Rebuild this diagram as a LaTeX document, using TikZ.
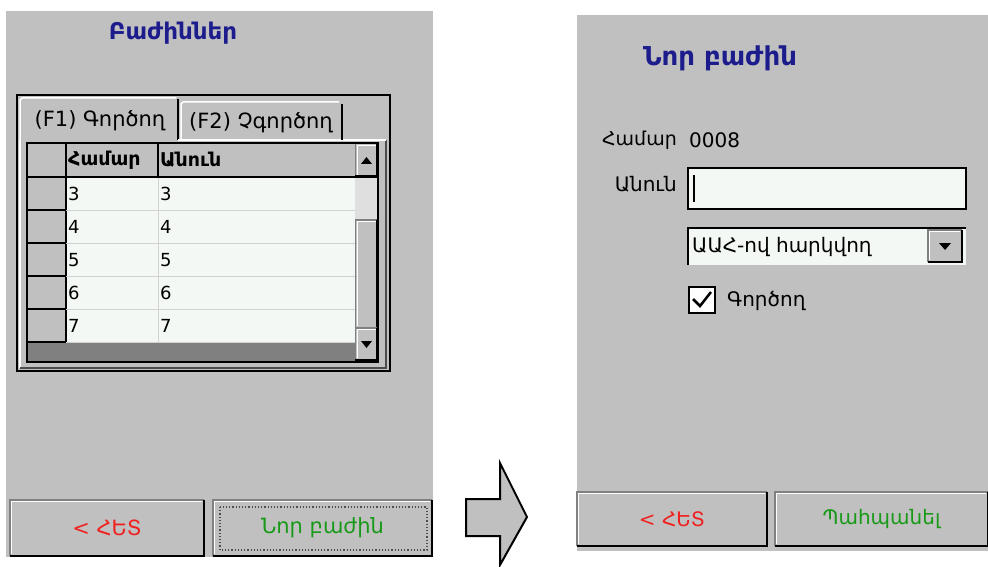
\documentclass[tikz,border=0pt]{standalone}
\usepackage{fontspec}
\setmainfont{DejaVu Sans}
\usetikzlibrary{shapes,backgrounds}

\definecolor{wingray}{HTML}{C0C0C0}
\definecolor{windark}{HTML}{808080}
\definecolor{cellbg}{HTML}{F4F8F4}
\definecolor{titleblue}{HTML}{1C1C8C}
\definecolor{btnred}{HTML}{F02020}
\definecolor{btngreen}{HTML}{189A18}

% raised 3D edge round a named node
\newcommand\btnedge[1]{%
  \draw[windark, line width=1.5pt] (#1.south west) -- (#1.north west) -- (#1.north east);
  \draw[white, line width=1pt] ([shift={(2pt,2pt)}]#1.south west) -- ([shift={(2pt,-2pt)}]#1.north west) -- ([shift={(-2pt,-2pt)}]#1.north east);
  \draw[black, line width=2.5pt] (#1.north east) -- (#1.south east) -- (#1.south west);
}

\begin{document}
\begin{tikzpicture}[x=1pt,y=-1pt,
  title/.style={inner sep=0pt, text=titleblue, font=\fontsize{23}{23}\selectfont\bfseries},
  cell/.style={inner sep=0pt, anchor=west, font=\fontsize{18}{18}\selectfont},
  head/.style={inner sep=0pt, anchor=west, font=\fontsize{19}{19}\selectfont\bfseries},
  tablbl/.style={inner sep=0pt, font=\fontsize{21}{21}\selectfont},
  lbl/.style={inner sep=0pt, font=\fontsize{20}{20}\selectfont},
  winbtn/.style={fill=wingray, inner sep=0pt, font=\fontsize{20}{20}\selectfont}]
\useasboundingbox (0,0) rectangle (988,567);
\fill[white] (0,0) rectangle (988,567);

% left screen
\fill[wingray] (6,11) rectangle (433,557);
\node[title] (listtitle) at (173,33) {Բաժիններ};

% tab control
\draw[line width=2pt] (17,95) rectangle (390,371);
\draw[white, line width=1.2pt] (20,368) -- (20,140);
\draw[black!70, line width=1.2pt] (20,368) -- (386,368) -- (386,140);
\draw[white, line width=1.5pt] (20,140) -- (20,100) -- (22,98) -- (176,98);
\draw[black, line width=1.5pt] (178,99) -- (178,140);
\draw[white, line width=1.2pt] (178,140) -- (386,140);
\draw[white, line width=1.5pt] (181,140) -- (181,104) -- (183,102) -- (339,102);
\draw[black, line width=1.5pt] (342,104) -- (342,140);
\node[tablbl] (tabon) at (100,121) {(F1) Գործող};
\node[tablbl] (taboff) at (261,123) {(F2) Չգործող};

% grid
\fill[wingray] (27,143) rectangle (355,177);
\fill[wingray] (27,177) rectangle (66,342);
\fill[cellbg] (66,177) rectangle (355,342);
\fill[windark] (27,342) rectangle (355,362);
\draw[black, line width=1.2pt] (66,143) -- (66,342);
\draw[black, line width=1.2pt] (158,143) -- (158,177);
\draw[gray!35] (158,177) -- (158,342);
\draw[black, line width=1.2pt] (27,177) -- (355,177);
\node[head] (hnum) at (68,160) {Համար};
\node[head] (hname) at (160,160) {Անուն};
\foreach \v [count=\i from 0] in {3,4,5,6,7} {
  \pgfmathsetmacro\ytop{177+33*\i}
  \node[cell] (num\v) at (68,\ytop+17) {\v};
  \node[cell] (name\v) at (160,\ytop+17) {\v};
  \draw[black, line width=1.2pt] (27,\ytop+33) -- (66,\ytop+33);
  \draw[gray!35] (66,\ytop+33) -- (355,\ytop+33);
}

% scroll bar
\fill[gray!25] (355,177) rectangle (378,328);
\node[winbtn, minimum width=22pt, minimum height=33pt] (scrollup) at (366.5,160) {};
\btnedge{scrollup}
\fill (361,164) -- (372,164) -- (366.5,157) -- cycle;
\node[winbtn, minimum width=22pt, minimum height=108pt] (thumb) at (366.5,274) {};
\btnedge{thumb}
\node[winbtn, minimum width=22pt, minimum height=32pt] (scrolldown) at (366.5,344) {};
\btnedge{scrolldown}
\fill (361,341) -- (372,341) -- (366.5,348) -- cycle;
\draw[black, line width=1.5pt] (27,143) rectangle (378,362);

% buttons
\node[winbtn, minimum width=194pt, minimum height=56pt, text=btnred, font=\fontsize{21}{21}\selectfont] (backone) at (107,528) {< ՀԵՏ};
\btnedge{backone}
\node[winbtn, minimum width=219pt, minimum height=56pt, text=btngreen, font=\fontsize{21}{21}\selectfont] (newbtn) at (322.5,528) {Նոր բաժին};
\btnedge{newbtn}
\draw[black!70, dotted, line width=1.2pt] (220,507) rectangle (427,550);

% arrow
\filldraw[fill=wingray, line width=2pt, line join=miter] (466,499) -- (500,499) -- (500,463) -- (527,517) -- (500,565) -- (500,536) -- (466,536) -- cycle;

% right screen
\fill[wingray] (577,15) rectangle (988,551);
\node[title, font=\fontsize{26}{26}\selectfont\bfseries] (newtitle) at (720,58) {Նոր բաժին};
\node[lbl, anchor=east, font=\fontsize{19}{19}\selectfont] (numlbl) at (677,140) {Համար};
\node[lbl, anchor=west] (numval) at (689,140) {0008};
\node[lbl, anchor=east] (namelbl) at (677,184) {Անուն};
\filldraw[fill=cellbg, line width=1.5pt] (688,168) rectangle (966,209);
\draw[line width=2.5pt] (694,175) -- (694,202);
\fill[cellbg] (688,228) rectangle (966,265);
\draw[black, line width=1.5pt] (688,265) -- (688,228) -- (966,228);
\node[lbl, anchor=west] (taxlbl) at (692,247) {ԱԱՀ-ով հարկվող};
\node[winbtn, minimum width=34pt, minimum height=32pt] (dropbtn) at (945,246) {};
\btnedge{dropbtn}
\fill (939,243) -- (951,243) -- (945,250) -- cycle;
\filldraw[fill=white, line width=1.5pt] (689,287) rectangle (715,313);
\draw[line width=2.5pt] (693,299) -- (700,306) -- (711,292);
\node[lbl, anchor=west] (activelbl) at (727,301) {Գործող};

\node[winbtn, minimum width=190pt, minimum height=54pt, text=btnred] (backtwo) at (672,519) {< ՀԵՏ};
\btnedge{backtwo}
\node[winbtn, minimum width=213pt, minimum height=54pt, text=btngreen] (savebtn) at (881.5,519) {Պահպանել};
\btnedge{savebtn}
\end{tikzpicture}
\end{document}
